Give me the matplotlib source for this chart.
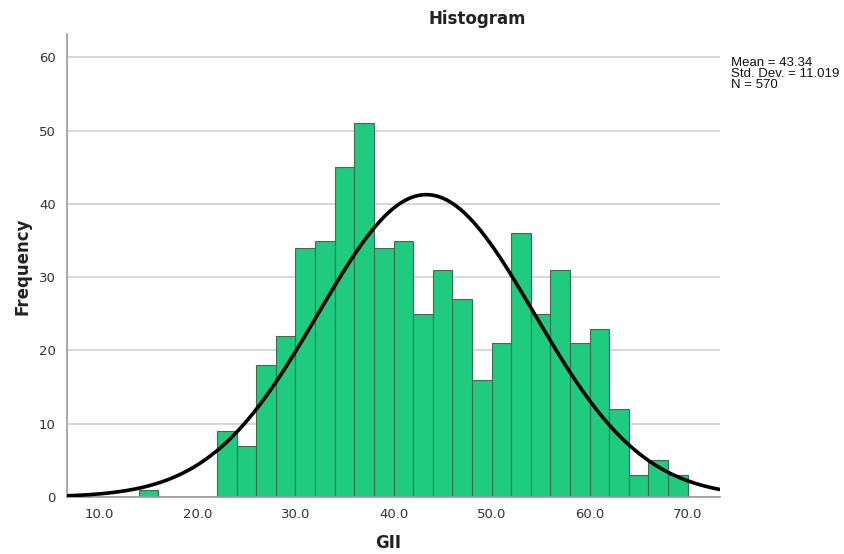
import numpy as np
import matplotlib.pyplot as plt

# GII frequencies in bins of width 2
bin_left = [14, 22, 24, 26, 28, 30, 32, 34, 36, 38, 40, 42, 44, 46, 48,
            50, 52, 54, 56, 58, 60, 62, 64, 66, 68]
counts = [1, 9, 7, 18, 22, 34, 35, 45, 51, 34, 35, 25, 31, 27, 16,
          21, 36, 25, 31, 21, 23, 12, 3, 5, 3]
bin_width = 2
mean = 43.34
std = 11.019
n = 570

xticks = [10, 20, 30, 40, 50, 60, 70]
yticks = [0, 10, 20, 30, 40, 50, 60]

fig = plt.figure(figsize=(8.45, 5.54), dpi=100)
ax = fig.add_axes([0.0793, 0.1029, 0.7728, 0.8357])

ax.bar(bin_left, counts, width=bin_width, align='edge',
       color='#1fcb7e', edgecolor='#3a6e50', linewidth=0.8, zorder=2)

xs = np.linspace(6.7, 73.3, 400)
pdf = np.exp(-0.5 * ((xs - mean) / std) ** 2) / (std * np.sqrt(2 * np.pi))
ax.plot(xs, n * bin_width * pdf, color='black', linewidth=2.6, zorder=3)

ax.set_xlim(6.7, 73.3)
ax.set_ylim(0, 63.2)
ax.set_xticks(xticks)
ax.set_xticklabels(['%.1f' % t for t in xticks])
ax.set_yticks(yticks)
ax.tick_params(length=0, labelsize=9.5, labelcolor='#333333', pad=8)
ax.yaxis.grid(True, color='#d0d0d0', linewidth=1.2, zorder=0)
ax.set_axisbelow(True)

for s in ['top', 'right']:
    ax.spines[s].set_visible(False)
for s in ['left', 'bottom']:
    ax.spines[s].set_color('#999999')
    ax.spines[s].set_linewidth(1.2)

fig.text(0.565, 0.966, 'Histogram', ha='center', va='center',
         fontsize=12, fontweight='bold', color='#222222')
fig.text(0.027, 0.52, 'Frequency', ha='center', va='center', rotation=90,
         fontsize=12, fontweight='bold', color='#222222')
fig.text(0.459, 0.02, 'GII', ha='center', va='center',
         fontsize=12, fontweight='bold', color='#222222')
fig.text(0.865, 0.897,
         'Mean = %.2f\nStd. Dev. = %.3f\nN = %d' % (mean, std, n),
         ha='left', va='top', fontsize=9.5, color='#111111', linespacing=0.9,
         family=['Liberation Sans', 'DejaVu Sans'])

fig.savefig('out.png', dpi=100)
